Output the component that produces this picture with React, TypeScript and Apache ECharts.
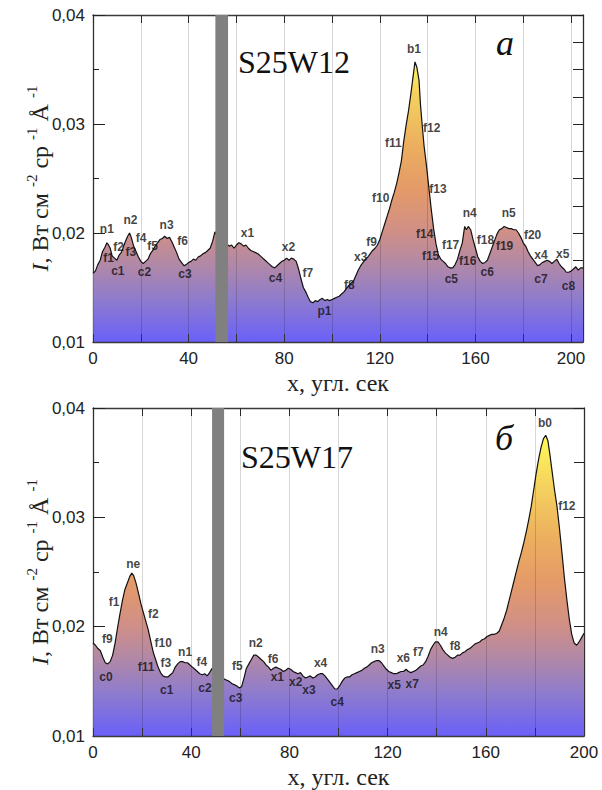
import React, { useEffect, useRef } from "react";
import * as echarts from "echarts";

// ---- Data: upper panel (S25W12), [x (arcsec), I] ----
const topProfile: [number, number][] = [
  [0,0.0163],[1,0.0165],[2,0.0171],[3,0.0175],[4,0.0183],[5,0.0187],[5.8,0.0191],[6.5,0.0189],[7.2,0.0186],[8,0.0179],
  [9,0.0177],[10,0.0175],[11,0.0180],[11.8,0.0182],[12.5,0.0186],[13.5,0.0192],[14.5,0.0197],[15.3,0.0200],[16,0.0196],[17,0.0188],
  [18,0.0183],[19,0.0178],[20,0.0174],[21,0.0172],[22,0.0174],[23,0.0176],[24,0.0181],[25,0.0184],[26,0.0188],[27,0.0191],
  [28,0.0194],[29,0.0195],[30,0.0197],[31,0.0195],[32,0.0196],[33,0.0192],[34,0.0187],[35,0.0182],[36,0.0176],[37,0.0173],
  [38,0.0170],[39,0.0171],[40,0.0173],[41,0.0174],[42,0.0176],[43,0.0175],[44,0.0178],[45,0.0179],[46,0.0181],[47,0.0182],
  [48,0.0184],[49,0.0186],[50,0.0192],[51,0.0201],[52,0.0197],[54,0.0193],[56,0.0190],[57,0.0188],[58,0.0189],[59,0.0186],
  [60,0.0189],[61,0.0191],[62,0.0190],[63,0.0188],[64,0.0189],[65,0.0186],[66,0.0184],[67,0.0183],[68,0.0182],[69,0.0181],
  [70,0.0179],[71,0.0177],[72,0.0175],[73,0.0173],[74,0.0171],[75,0.0169],[76,0.0168],[77,0.0170],[78,0.0172],[79,0.0174],
  [80,0.0175],[81,0.0177],[82,0.0175],[83,0.0177],[84,0.0176],[85,0.0174],[86,0.0167],[87,0.0158],[88,0.0150],[89,0.0146],
  [90,0.0141],[91,0.0137],[92,0.0136],[93,0.0138],[94,0.0137],[95,0.0139],[96,0.0140],[97,0.0138],[98,0.0139],[99,0.0138],
  [100,0.0139],[101,0.0140],[102,0.0141],[103,0.0142],[104,0.0144],[105,0.0146],[106,0.0149],[107,0.0152],[108,0.0154],[109,0.0156],
  [110,0.0161],[111,0.0166],[112,0.0170],[113,0.0173],[114,0.0176],[115,0.0178],[116,0.0181],[117,0.0184],[118,0.0186],[119,0.0189],
  [120,0.0194],[121,0.0201],[122,0.0208],[123,0.0215],[124,0.0222],[125,0.0230],[126,0.0237],[127,0.0245],[128,0.0255],[129,0.0266],
  [130,0.0284],[131,0.0299],[132,0.0312],[133,0.0328],[134,0.0345],[134.7,0.0357],[135.5,0.0352],[136.4,0.0340],[137,0.0318],[137.8,0.0297],
  [138.5,0.0280],[139.5,0.0262],[140.5,0.0242],[141.5,0.0222],[142.5,0.0204],[143.5,0.0190],[144.5,0.0180],[145.5,0.0176],[146.5,0.0174],[147.5,0.0172],
  [148.5,0.0169],[149.5,0.0168],[150.5,0.0168],[151.5,0.0171],[152.5,0.0176],[153.5,0.0184],[154.5,0.0191],[155.5,0.0206],[156.2,0.0203],[157,0.0206],
  [158,0.0203],[159,0.0194],[160,0.0186],[161,0.0178],[162,0.0174],[163,0.0172],[164,0.0173],[165,0.0175],[166,0.0181],[167,0.0187],
  [168,0.0193],[169,0.0199],[170,0.0203],[171,0.0204],[172,0.0206],[173,0.0205],[174,0.0204],[175,0.0204],[176,0.0203],[177,0.0203],
  [178,0.0200],[179,0.0196],[180,0.0191],[181,0.0188],[182,0.0183],[183,0.0179],[184,0.0176],[185,0.0173],[186,0.0170],[187,0.0171],
  [188,0.0173],[189,0.0174],[190,0.0175],[191,0.0174],[192,0.0172],[193,0.0174],[194,0.0176],[195,0.0172],[196,0.0169],[197,0.0167],
  [198,0.0164],[199,0.0164],[200,0.0165],[201,0.0167],[202,0.0169],[203,0.0166],[204,0.0168],[205,0.0168],
];

// ---- Data: lower panel (S25W17) ----
const bottomProfile: [number, number][] = [
  [0,0.0185],[1,0.0183],[2,0.0180],[3,0.0178],[4,0.0172],[5,0.0167],[6,0.0166],[7,0.0168],[8,0.0174],[9,0.0185],
  [10,0.0199],[11,0.0212],[12,0.0224],[13,0.0234],[14,0.0240],[15,0.0246],[15.8,0.0249],[16.5,0.0247],[17.5,0.0240],[18.5,0.0231],
  [19.5,0.0221],[20.5,0.0213],[21.5,0.0205],[22.5,0.0197],[23.5,0.0187],[24.5,0.0177],[25.5,0.0170],[26.5,0.0163],[27.5,0.0158],[28.5,0.0155],
  [29.5,0.0154],[30.5,0.0154],[31.5,0.0156],[32.5,0.0158],[33.5,0.0163],[34.5,0.0166],[35.5,0.0168],[36.5,0.0168],[37.5,0.0167],[38.5,0.0167],
  [39.5,0.0165],[40.5,0.0163],[41.5,0.0161],[42.5,0.0159],[43.5,0.0157],[44.5,0.0156],[45.5,0.0157],[46.5,0.0155],[47.5,0.0158],[48.5,0.0162],
  [51,0.0156],[53.5,0.0152],[54.5,0.0151],[55.5,0.0150],[56.5,0.0148],[57.5,0.0147],[58.5,0.0146],[59.5,0.0144],[60.5,0.0145],[61.5,0.0153],
  [62.5,0.0162],[63.5,0.0166],[64.5,0.0170],[65.5,0.0174],[66.5,0.0174],[67.5,0.0172],[68.5,0.0170],[69.5,0.0168],[70.5,0.0165],[71.5,0.0163],
  [72.5,0.0160],[73.5,0.0162],[74.5,0.0163],[75.5,0.0162],[76.5,0.0161],[77.5,0.0159],[78.5,0.0160],[79.5,0.0162],[80.5,0.0161],[81.5,0.0159],
  [82.5,0.0158],[83.5,0.0157],[84.5,0.0158],[85.5,0.0155],[86.5,0.0153],[87.5,0.0154],[88.5,0.0155],[89.5,0.0153],[90.5,0.0154],[91.5,0.0156],
  [92.5,0.0157],[93.5,0.0157],[94.5,0.0155],[95.5,0.0152],[96.5,0.0149],[97.5,0.0146],[98.5,0.0143],[99.5,0.0143],[100.5,0.0146],[101.5,0.0150],
  [102.5,0.0153],[103.5,0.0154],[104.5,0.0154],[105.5,0.0156],[106.5,0.0157],[107.5,0.0158],[108.5,0.0159],[109.5,0.0160],[110.5,0.0162],[111.5,0.0163],
  [112.5,0.0165],[113.5,0.0167],[114.5,0.0168],[115.5,0.0169],[116.5,0.0169],[117.5,0.0167],[118.5,0.0164],[119.5,0.0161],[120.5,0.0159],[121.5,0.0158],
  [122.5,0.0157],[123.5,0.0157],[124.5,0.0158],[125.5,0.0159],[126.5,0.0159],[127.5,0.0161],[128.5,0.0159],[129.5,0.0158],[130.5,0.0159],[131.5,0.0160],
  [132.5,0.0162],[133.5,0.0164],[134.5,0.0165],[135.5,0.0168],[136.5,0.0173],[137.5,0.0179],[138.5,0.0183],[139.5,0.0186],[140.5,0.0186],[141.5,0.0183],
  [142.5,0.0179],[143.5,0.0176],[144.5,0.0174],[145.5,0.0172],[146.5,0.0171],[147.5,0.0172],[148.5,0.0174],[149.5,0.0174],[150.5,0.0176],[151.5,0.0177],
  [152.5,0.0179],[153.5,0.0180],[154.5,0.0182],[155.5,0.0184],[156.5,0.0185],[157.5,0.0186],[158.5,0.0188],[159.5,0.0189],[160.5,0.0191],[161.5,0.0192],
  [162.5,0.0193],[163.5,0.0193],[164.5,0.0194],[165.5,0.0196],[166.5,0.0202],[167.5,0.0208],[168.5,0.0215],[169.5,0.0224],[170.5,0.0233],[171.5,0.0242],
  [172.5,0.0251],[173.5,0.0260],[174.5,0.0268],[175.5,0.0277],[176.5,0.0287],[177.5,0.0298],[178.5,0.0310],[179.5,0.0325],[180.5,0.0340],[181.5,0.0353],
  [182.5,0.0364],[183.5,0.0372],[184.4,0.0375],[185.3,0.0370],[186.2,0.0356],[187,0.0342],[188,0.0325],[189,0.0310],[190,0.0290],[191,0.0268],
  [192,0.0245],[193,0.0225],[194,0.0207],[195,0.0193],[196,0.0185],[197,0.0183],[198,0.0186],[199,0.0190],[200,0.0194],
];

// gaps (gray bands) [from, to]
const topGap: [number, number][] = [[51.2, 56.5]];
const bottomGap: [number, number][] = [[48.5, 53.4]];

// feature labels [name, x, I]
const topLabels: [string, number, number][] = [
  ["n1",5.8,0.0204],["f1",6.5,0.0177],["f2",10.7,0.0187],["f3",15.8,0.0183],["c1",10.4,0.0165],
  ["n2",15.7,0.0212],["f4",20.1,0.0195],["f5",24.9,0.0188],["c2",21.5,0.0164],["n3",30.8,0.0207],
  ["f6",37.5,0.0193],["c3",38.5,0.0162],["x1",64.6,0.0200],["x2",81.8,0.0187],["c4",76.3,0.0159],
  ["f7",89.9,0.0163],["p1",96.8,0.0128],["f8",107.2,0.0152],["x3",112,0.0178],["f9",116.5,0.0192],
  ["f10",120.4,0.0232],["f11",125.7,0.0283],["b1",134.3,0.0369],["f12",141.7,0.0296],["f13",144.3,0.0240],
  ["f14",138.75,0.0199],["f15",141.25,0.0179],["c5",149.9,0.0158],["f17",149.6,0.0189],["f16",156.8,0.0174],
  ["n4",157.6,0.0218],["f18",164.2,0.0194],["c6",164.9,0.0164],["n5",173.9,0.0218],["f19",172.2,0.0188],
  ["f20",183.9,0.0198],["x4",187.4,0.0180],["c7",187.4,0.0158],["x5",196.5,0.0181],["c8",198.9,0.0151],
];
const bottomLabels: [string, number, number][] = [
  ["f9",5.8,0.0189],["c0",5.3,0.0154],["f1",8.55,0.0223],["ne",16.4,0.0257],["f2",24.6,0.0212],
  ["f10",28.6,0.0185],["f11",21.6,0.0163],["f3",29.7,0.0167],["c1",30,0.0142],["n1",37.5,0.0177],
  ["f4",44.3,0.0168],["c2",45.6,0.0144],["f5",58.8,0.0164],["c3",58.1,0.0135],["n2",66.3,0.0185],
  ["f6",73.4,0.0170],["x1",75.1,0.0154],["x2",82.6,0.0149],["x3",88.0,0.0142],["x4",92.7,0.0167],
  ["c4",99.5,0.0131],["n3",116,0.0180],["x6",126.4,0.0171],["f7",132.5,0.0177],["x5",122.7,0.0147],
  ["x7",130,0.0148],["n4",141.6,0.0195],["f8",147.5,0.0182],["b0",184.1,0.0386],["f12",193,0.0310],
];

const yTicksMin = 0.01;
const yTicksMax = 0.04;
const xMaxTop = 205;
const xMaxBottom = 200;

// colour by intensity
const colourStops: [number, string][] = [
  [0.037, "#fff65a"], [0.033, "#f5d35e"], [0.028, "#ecae5f"], [0.024, "#e49a68"],
  [0.020, "#cf8f88"], [0.017, "#b088a8"], [0.014, "#8f7ccc"], [0.010, "#6a60f8"],
];

function areaGradient(max: number) {
  const span = max - yTicksMin;
  const stops = colourStops.map(([v, c]) => ({
    offset: Math.min(1, Math.max(0, (max - v) / span)),
    color: c,
  }));
  return new echarts.graphic.LinearGradient(0, 0, 0, 1, stops);
}

const SERIF = "'Liberation Serif', 'Times New Roman', serif";
const SANS = "'Liberation Sans', Arial, sans-serif";
const AXIS_COLOR = "#3a3a3a";

const yName = "{i|I}{n|, Вт см }{s|-2}{n| ср }{s|-1}{n| Å }{s|-1}";
const yNameStyle = {
  fontFamily: SERIF,
  fontSize: 24,
  color: "#222",
  rich: {
    i: { fontFamily: SERIF, fontSize: 24, fontStyle: "italic", lineHeight: 32 },
    n: { fontFamily: SERIF, fontSize: 24, lineHeight: 32 },
    s: { fontFamily: SERIF, fontSize: 15, lineHeight: 15, verticalAlign: "top" },
  },
};

function makeAxes(grid: number, xMax: number, rightInterval: number) {
  const xBottom = {
    type: "value", gridIndex: grid, position: "bottom", min: 0, max: xMax, interval: 20, z: 3,
    axisLine: { show: true, onZero: false, lineStyle: { color: AXIS_COLOR, width: 1.3 } },
    axisTick: { show: true, inside: true, length: 8, lineStyle: { color: "#333" } },
    axisLabel: {
      fontFamily: SANS, fontSize: 17, color: "#222", margin: 8,
      formatter: (v: number) => (Math.abs(v % 40) < 1e-6 ? String(v) : ""),
    },
    splitLine: { show: true, lineStyle: { color: "rgba(0,0,0,0.16)", width: 1 } },
    name: "x, угл. сек", nameLocation: "middle", nameGap: 29, nameMoveOverlap: false,
    nameTextStyle: { fontFamily: SERIF, fontSize: 24, color: "#222" },
  };
  const xTop = {
    type: "value", gridIndex: grid, position: "top", min: 0, max: xMax, interval: 20,
    axisLine: { show: true, onZero: false, lineStyle: { color: AXIS_COLOR, width: 1.3 } },
    axisTick: { show: true, inside: true, length: 8, lineStyle: { color: "#333" } },
    axisLabel: { show: false }, splitLine: { show: false },
  };
  const yLeft = {
    type: "value", gridIndex: grid, position: "left", min: yTicksMin, max: yTicksMax, interval: 0.01,
    axisLine: { show: true, onZero: false, lineStyle: { color: AXIS_COLOR, width: 1.3 } },
    axisTick: { show: true, inside: true, length: 12, lineStyle: { color: "#222" } },
    minorTick: { show: true, splitNumber: 2, length: 6, lineStyle: { color: "#222" } },
    axisLabel: {
      fontFamily: SANS, fontSize: 17, color: "#222", margin: 8,
      formatter: (v: number) => v.toFixed(2).replace(".", ","),
    },
    splitLine: { show: false },
    name: yName, nameLocation: "middle", nameRotate: 90, nameGap: 37, nameMoveOverlap: false,
    nameTextStyle: yNameStyle,
  };
  const yRight = {
    type: "value", gridIndex: grid, position: "right", min: yTicksMin, max: yTicksMax, interval: rightInterval,
    axisLine: { show: true, onZero: false, lineStyle: { color: AXIS_COLOR, width: 1.3 } },
    axisTick: { show: true, inside: true, length: 10, lineStyle: { color: "#222" } },
    axisLabel: { show: false }, splitLine: { show: false },
  };
  return { xBottom, xTop, yLeft, yRight };
}

function profileSeries(data: [number, number][], xi: number, yi: number) {
  const max = Math.max(...data.map((d) => d[1]));
  return {
    type: "line", xAxisIndex: xi, yAxisIndex: yi, data, showSymbol: false, symbol: "none",
    lineStyle: { color: "#111", width: 1.2 },
    areaStyle: { color: areaGradient(max), opacity: 1 },
    z: 2,
  };
}

function gapSeries(data: [number, number][], xi: number, yi: number) {
  return {
    type: "custom", xAxisIndex: xi, yAxisIndex: yi, data, z: 6, silent: true,
    renderItem: (_p: any, api: any) => {
      const a = api.coord([api.value(0), yTicksMax]);
      const b = api.coord([api.value(1), yTicksMin]);
      return {
        type: "rect",
        shape: { x: a[0], y: a[1], width: b[0] - a[0], height: b[1] - a[1] },
        style: { fill: "#808080" },
      };
    },
  };
}

function labelSeries(labels: [string, number, number][], xi: number, yi: number) {
  return {
    type: "scatter", xAxisIndex: xi, yAxisIndex: yi, z: 8, silent: true,
    symbol: "circle", symbolSize: 1, itemStyle: { color: "rgba(0,0,0,0)" },
    data: labels.map(([n, x, y]) => ({ name: n, value: [x, y] })),
    label: {
      show: true, position: "inside", formatter: "{b}",
      fontFamily: SANS, fontSize: 12, fontWeight: "bold", color: "#111",
    },
  };
}

export default function App() {
  const ref = useRef<HTMLDivElement>(null);
  useEffect(() => {
    document.body.style.margin = "0";
    if (!ref.current) return;
    const chart = echarts.init(ref.current, null, { renderer: "svg" });
    const a = makeAxes(0, xMaxTop, 0.0025);
    const b = makeAxes(1, xMaxBottom, 0.005);
    chart.setOption({
      animation: false,
      backgroundColor: "#ffffff",
      grid: [
        { left: 93, top: 15, width: 490, height: 327 },
        { left: 93, top: 408, width: 491, height: 328 },
      ],
      xAxis: [a.xBottom, a.xTop, b.xBottom, b.xTop],
      yAxis: [a.yLeft, a.yRight, b.yLeft, b.yRight],
      series: [
        profileSeries(topProfile, 0, 0),
        gapSeries(topGap, 0, 0),
        labelSeries(topLabels, 0, 0),
        profileSeries(bottomProfile, 2, 2),
        gapSeries(bottomGap, 2, 2),
        labelSeries(bottomLabels, 2, 2),
      ],
      graphic: [
        { type: "text", x: 238, y: 62, z: 10, style: { text: "S25W12", fontFamily: SERIF, fontSize: 32, fill: "#111", verticalAlign: "middle", align: "left" } },
        { type: "text", x: 505, y: 43, z: 10, style: { text: "a", fontFamily: SERIF, fontSize: 36, fontStyle: "italic", fill: "#111", verticalAlign: "middle", align: "center" } },
        { type: "text", x: 241, y: 457, z: 10, style: { text: "S25W17", fontFamily: SERIF, fontSize: 32, fill: "#111", verticalAlign: "middle", align: "left" } },
        { type: "text", x: 504, y: 438, z: 10, style: { text: "б", fontFamily: SERIF, fontSize: 36, fontStyle: "italic", fill: "#111", verticalAlign: "middle", align: "center" } },
      ],
    });
    return () => chart.dispose();
  }, []);
  return <div ref={ref} style={{ width: 602, height: 790 }} />;
}
